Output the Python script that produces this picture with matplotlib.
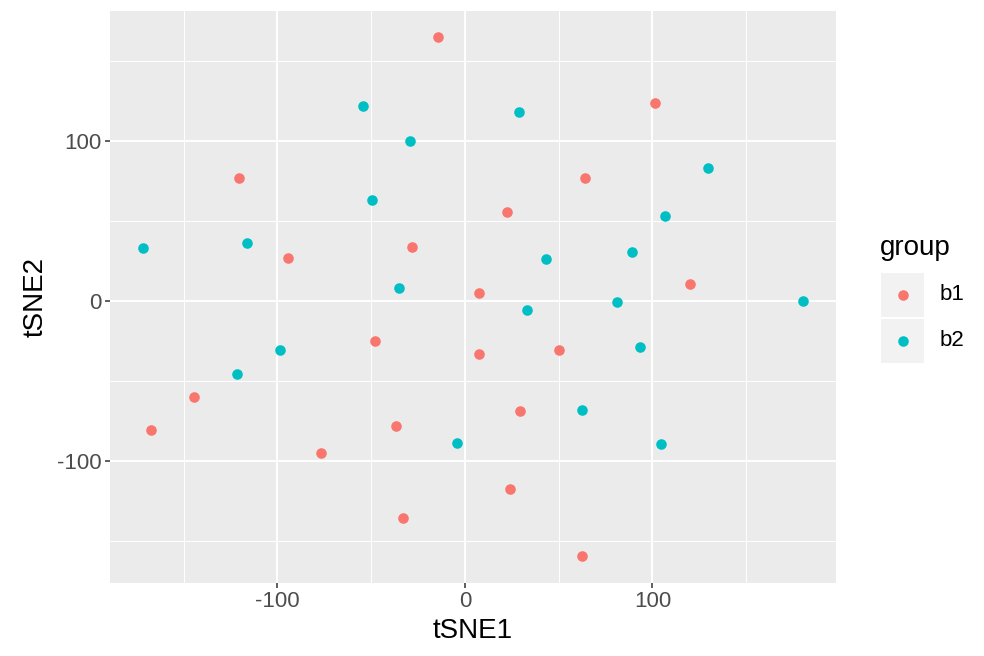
import matplotlib.pyplot as plt
from matplotlib.lines import Line2D
from matplotlib.patches import Rectangle

# group b1
b1_x = [-14.4, 101.3, -120.5, 64.0, 22.4, -28.3, -94.4, 120.0, 7.5, -48.0,
        7.5, 50.1, -144.5, -167.5, 29.3, -36.8, -76.8, 24.0, -33.1, 62.4]
b1_y = [165.1, 124.0, 76.6, 76.6, 55.5, 33.6, 26.8, 10.6, 5.0, -24.9,
        -33.0, -30.5, -59.8, -80.4, -68.5, -77.9, -94.7, -117.8, -135.8, -159.5]
# group b2
b2_x = [-54.4, 28.8, -29.3, 129.6, -49.6, 106.7, -171.7, -116.3, 43.2, 89.1,
        -35.2, 81.1, 180.3, 33.1, -98.7, 93.3, -121.6, -4.3, 62.4, 104.5]
b2_y = [122.1, 118.4, 100.3, 82.9, 62.9, 53.0, 33.0, 36.1, 26.2, 30.5,
        8.1, -0.6, 0.0, -5.6, -30.5, -28.7, -45.5, -88.5, -67.9, -89.1]

groups = ["b1", "b2"]
colors = ["#F8766D", "#00BFC4"]

plt.rcParams['font.family'] = ['Liberation Sans', 'DejaVu Sans']

W, H = 984, 656
fig = plt.figure(figsize=(W/100, H/100), dpi=100)
ax = fig.add_axes([110/W, 1-583/H, 726/W, 572/H])
ax.set_facecolor("#EBEBEB")

ax.scatter(b1_x, b1_y, s=58, color=colors[0], zorder=3, linewidths=0)
ax.scatter(b2_x, b2_y, s=58, color=colors[1], zorder=3, linewidths=0)

ax.set_xlim(-189.3, 197.9)
ax.set_ylim(-176.25, 181.25)
ax.set_xticks([-100, 0, 100])
ax.set_xticks([-150, -50, 50, 150], minor=True)
ax.set_yticks([-100, 0, 100])
ax.set_yticks([-150, -50, 50, 150], minor=True)
ax.set_xticklabels(["-100", "0", "100"])
ax.set_yticklabels(["-100", "0", "100"])
ax.grid(True, which="major", color="white", linewidth=1.4, zorder=0)
ax.grid(True, which="minor", color="white", linewidth=0.7, zorder=0)
ax.set_axisbelow(True)
for s in ax.spines.values():
    s.set_visible(False)
ax.tick_params(which="major", length=3.5, width=1.1, color="#333333",
               labelsize=16, labelcolor="#4D4D4D", pad=2.5)
ax.tick_params(which="minor", length=0)

ax.set_xlabel("tSNE1", fontsize=20, labelpad=4)
ax.set_ylabel("tSNE2", fontsize=20, labelpad=6)

# legend drawn by hand, ggplot style
fig.text(880/W, 1-248/H, "group", fontsize=20, va="center", ha="left")
for i, (g, c) in enumerate(zip(groups, colors)):
    top = 273 + i*46
    fig.add_artist(Rectangle((881/W, 1-(top+44)/H), 43/W, 44/H,
                             transform=fig.transFigure,
                             facecolor="#F2F2F2", edgecolor="none"))
    fig.add_artist(Line2D([903/W], [1-(top+22)/H], marker="o",
                          markersize=7.6, markerfacecolor=c,
                          markeredgewidth=0, linestyle="",
                          transform=fig.transFigure))
    fig.text(940/W, 1-(top+22)/H, g, fontsize=16, va="center", ha="left")

fig.savefig("out.png", dpi=100)
